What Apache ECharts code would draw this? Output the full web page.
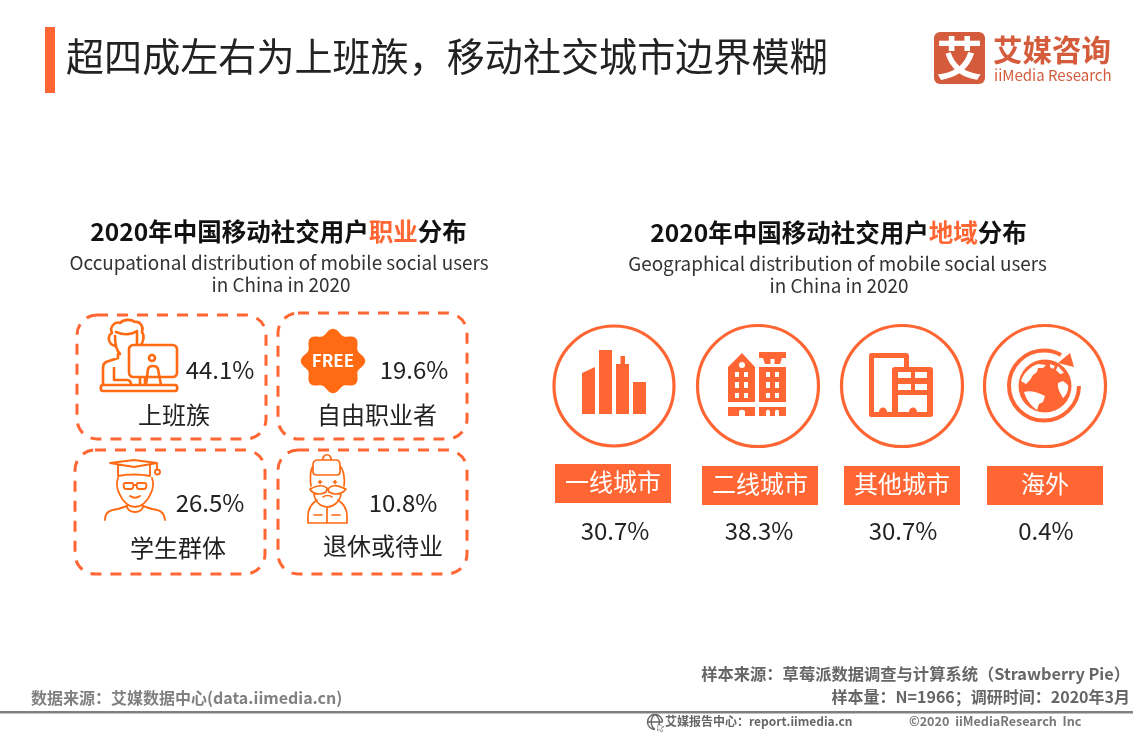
<!DOCTYPE html>
<html>
<head>
<meta charset="utf-8">
<title>移动社交用户分布</title>
<style>html,body{margin:0;padding:0;background:#fff}#main{width:1133px;height:736px}</style>
<script src="https://cdn.jsdelivr.net/npm/echarts@6/dist/echarts.min.js"></script>
</head>
<body>
<div id="main"></div>
<script>
var occupationLabels=['上班族','自由职业者','学生群体','退休或待业'];
var occupationValues=[44.1,19.6,26.5,10.8];
var regionLabels=['一线城市','二线城市','其他城市','海外'];
var regionValues=[30.7,38.3,30.7,0.4];

var ORANGE='#FF6633';
var ICON='#FF6A13';
var LOGO='#D45C3C';
var FONT='"Noto Sans CJK SC","Noto Sans",sans-serif';

function txt(x,y,text,size,color,align,weight,rich){
    return {
        type:'text',x:x,y:y,silent:true,
        style:{text:text,font:(weight||'normal')+' '+size+'px '+FONT,fontFamily:FONT,fontSize:size,fontWeight:weight||'normal',
            fill:color,align:align||'center',verticalAlign:'middle',rich:rich}
    };
}
function box(x,y,w,h,r,fill){
    return {type:'rect',shape:{x:x,y:y,width:w,height:h,r:r||0},style:{fill:fill},silent:true};
}
function dashed(x,y,w,h){
    return {type:'rect',shape:{x:x,y:y,width:w,height:h,r:20},silent:true,
        style:{fill:'none',stroke:ORANGE,lineWidth:3,lineDash:[11,9]}};
}
function ring(cx,cy,r){
    return {type:'circle',shape:{cx:cx,cy:cy,r:r},silent:true,style:{fill:'none',stroke:ORANGE,lineWidth:3.2}};
}
function badge(cx,cy){
    // 8 lobes round the FREE label
    var pts=[];
    for(var i=0;i<96;i++){
        var a=i/96*Math.PI*2-Math.PI/2;
        var r=29.5+2.8*Math.cos(a*8+Math.PI*4);
        pts.push([cx+r*Math.cos(a),cy+r*Math.sin(a)]);
    }
    return {type:'polygon',shape:{points:pts},style:{fill:ICON},silent:true};
}

var cards=[[77,315,189,124],[278,313,189,126],[75,450,190,124],[278,450,189,124]];
var occValuePos=[[220,370],[414,370],[210,503],[403,503]];
var occLabelPos=[[174,415],[377,415],[178,548],[383,546]];
var rings=[[614,386,60],[758,386,60.5],[902,386,60.5],[1045,386,60.5]];
var tags=[[555,464],[702,466],[844,466],[987,466]];

var headRich={h:{fill:ORANGE,fontSize:24.5,fontWeight:'bold',fontFamily:FONT}};
var elements=[
    box(45,27,10,66,0,ORANGE),
    txt(66,57,'超四成左右为上班族，移动社交城市边界模糊',38.1,'#222','left'),
    box(934,32,51,52,6,LOGO),
    txt(959.5,58,'艾',46,'#fff','center','bold'),
    txt(993,50,'艾媒咨询',29.5,LOGO,'left','bold'),
    txt(994,75,'iiMedia Research',15,LOGO,'left'),

    txt(278.5,232,'2020年中国移动社交用户{h|职业}分布',24.5,'#111','center','bold',headRich),
    txt(279,263,'Occupational distribution of mobile social users',18.9,'#333'),
    txt(281,285,'in China in 2020',18.9,'#333'),
    txt(838.5,233,'2020年中国移动社交用户{h|地域}分布',24.5,'#111','center','bold',headRich),
    txt(837.5,264,'Geographical distribution of mobile social users',18.9,'#333'),
    txt(839,286,'in China in 2020',18.9,'#333'),

    badge(333,361),
    txt(333,361,'FREE',17,'#fff','center','bold'),

    txt(1130,674,'样本来源：草莓派数据调查与计算系统（Strawberry Pie）',16.3,'#666','right','bold'),
    txt(1130,697,'样本量：N=1966；调研时间：2020年3月',16,'#666','right','bold'),
    txt(31,698,'数据来源：艾媒数据中心(data.iimedia.cn)',16,'#808080','left','bold'),
    box(0,711,1133,2.5,0,'#808080'),
    txt(665,721,'艾媒报告中心：report.iimedia.cn',12,'#666','left','bold'),
    txt(909,721,'©2020  iiMediaResearch  Inc',12.6,'#777','left','bold')
];
cards.forEach(function(c){elements.push(dashed(c[0],c[1],c[2],c[3]));});
occupationLabels.forEach(function(name,i){
    elements.push(txt(occLabelPos[i][0],occLabelPos[i][1],name,24,'#222'));
    elements.push(txt(occValuePos[i][0],occValuePos[i][1],occupationValues[i]+'%',24,'#222'));
});
regionLabels.forEach(function(name,i){
    var r=rings[i],t=tags[i];
    elements.push(ring(r[0],r[1],r[2]));
    elements.push(box(t[0],t[1],116,39,0,ORANGE));
    elements.push(txt(t[0]+58,t[1]+18,name,24,'#fff'));
    elements.push(txt(r[0]+1,531,regionValues[i]+'%',24,'#222'));
});

// line icons, left block: [path, width]
var lineIcons=[
    // office worker
    ['M115 346C108 344 107 336 112 333C109 327 115 321 120 323C124 319 131 319 135 322C140 321 144 327 142 332C145 336 143 342 141 345'+
    'M115 336C115 343 116 350 120 354M116 332C123 335 131 335 137 331L137 345'+
    'M118 354L118 358L106 362C104 363 103 365 103 368L103 385M114 368L114 380L127 380C130 380 131 382 131 385'+
    'M133 345L173 345C175 345 177 347 177 349L177 373C177 375 175 377 173 377L133 377C131 377 129 375 129 373L129 349C129 347 131 345 133 345Z'+
    'M140 377L140 385M145 377L145 385M146 385L148 369C149 365 157 365 158 369L161 385'+
    'M155 358A3 3 0 1 1 149 358A3 3 0 1 1 155 358Z'+
    'M103 385L175 385C178 385 178 391 175 391L103 391C100 391 100 385 103 385Z',2.6],
    // student
    ['M110 463L134 460L157 463L134 467Z M118 465L118 476C127 474 141 474 150 476L150 465M157 463L157 469'+
    'M160 472A2.5 2.5 0 1 1 155 472A2.5 2.5 0 1 1 160 472Z'+
    'M118 478C116 483 117 490 120 495C123 502 129 507 135 507C141 507 147 502 150 495C153 490 154 483 152 478'+
    'M125 483L132 483C134 483 134 489 131 489L126 489C123 489 123 483 125 483ZM138 483L145 483C147 483 147 489 144 489L139 489C136 489 136 483 138 483ZM134 485L136 485'+
    'M130 496C133 498 137 498 140 496'+
    'M105 520C105 512 110 510 118 509L127 506C127 514 143 514 143 506L152 509C160 510 164 512 165 520',1.9],
    // retired elder
    ['M323 460C322 453 332 453 331 460M318 460L336 460C339 460 340 462 340 465L340 472C340 474 339 475 337 475L317 475C315 475 313 474 313 472L313 465C313 462 315 460 318 460Z'+
    'M313 466C310 470 310 480 311 486M340 466C344 470 345 480 344 486'+
    'M327 488C323 484 316 486 310 489C313 495 322 495 326 492C327 490 327 489 327 488ZM329 488C333 484 339 486 346 489C342 495 333 495 329 492C328 490 328 489 329 488Z'+
    'M314 494C315 502 321 507 327 507C333 507 340 502 341 494M323 497C325 495 330 495 332 497'+
    'M318.5 482L321.5 482M320 480.500L320 483.500M333.500 482L336.500 482M335 480.500L335 483.500'+
    'M317 500C311 504 308 510 308 516L308 523L347 523L347 516C347 510 344 504 338 500M327 508L327 523M314 515L322 515M332 515L340 515',1.7]
];
// solid icons, right block: [path, colour]
var solidIcons=[
    ['M582 373L595 367L595 414L582 414ZM599 350L612 350L612 414L599 414ZM616 364L620.5 364L620.5 356L625 356L625 364L629 364L629 414L616 414ZM633 382L646 382L646 414L633 414Z',ORANGE],
    // two houses
    ['M742 353L755 367L755 402L728 402L728 367ZM728 407L755 407L755 416L745 416L745 412C745 409 739 409 739 412L739 416L728 416Z'+
     'M759 352L786 352L786 358L782 358L780 364L774.500 364L774.500 359L770.500 359L770.500 364L765 364L763 358L759 358ZM759 367L786 367L786 402L759 402Z'+
     'M759 407L786 407L786 416L779 416L779 412C779 409 775 409 775 412L775 416L770 416L770 412C770 409 766 409 766 412L766 416L759 416Z',ORANGE],
    ['M735 372h4v5h-4zM744 372h4v5h-4zM735 382h4v6h-4zM744 382h4v6h-4zM735 393h4v5h-4zM744 393h4v5h-4zM745 365a3 3 0 1 1 -6 0a3 3 0 1 1 6 0zM766 372h4v5h-4zM775 372h4v5h-4zM766 382h4v6h-4zM775 382h4v6h-4zM766 393h4v5h-4zM775 393h4v5h-4z','#fff'],
    // offices
    ['M871 353L906 353C908 353 909 354 909 356L909 367L930 367C932 367 933 368 933 370L933 415C933 416 932 417 930 417L871 417C870 417 869 416 869 415L869 356C869 354 870 353 871 353Z',ORANGE],
    ['M874 358L904 358L904 367L895 367C893 367 892 368 892 370L892 412L887 412C887 406 879 406 879 412L874 412ZM898 372H911V378H898ZM915 372H927V378H915ZM898 384H911V390H898ZM915 384H927V390H915ZM898 395H927V412H917C917 406 909 406 909 412H898Z','#fff'],
    // globe
    ['M1071.5 386A26.5 26.5 0 1 1 1018.5 386A26.5 26.5 0 1 1 1071.5 386Z',ORANGE],
    ['M1021 381C1024 372 1031 366 1038 364L1046 365L1043 368L1038 368L1037 372L1033 375L1030 380L1026 384ZM1050 364L1055 366L1053 369L1050 367ZM1058 366L1064 373L1060 374L1056 370ZM1058 383L1063 381L1068 385C1069 390 1066 396 1063 398C1061 394 1057 389 1058 383ZM1024 392C1030 390 1037 392 1045 396L1043 402L1039 404L1037 410C1031 406 1026 399 1024 392Z','#fff'],
    ['M1070 353L1074 367L1058 363Z',ORANGE]
];
var strokeArcs=[
    ['M1079 386A35 35 0 1 1 1061 355',ORANGE,4],
    // report centre globe
    ['M662.5 722A7.500 7.500 0 1 0 655 729.500M647.500 722L662.500 722M655 714.500C650 718 650 726 655 729.500M655 714.500C660 718 660 722 659 725',"#666",1.4],
    ['M658 724L664 727L661 728L663 731L661 732L659.500 729L657.500 731Z','#666',0.6]
];

var option={
    animation:false,
    backgroundColor:'#fff',
    graphic:{elements:elements},
    series:[{
        type:'custom',
        coordinateSystem:'none',
        silent:true,
        data:[0],
        renderItem:function(){
            var kids=[];
            solidIcons.forEach(function(p){
                kids.push({type:'path',shape:{pathData:p[0]},style:{fill:p[1]}});
            });
            strokeArcs.forEach(function(a){
                kids.push({type:'path',shape:{pathData:a[0]},style:{fill:'none',stroke:a[1],lineWidth:a[2]}});
            });
            lineIcons.forEach(function(d){
                kids.push({type:'path',shape:{pathData:d[0]},style:{fill:'none',stroke:ICON,lineWidth:d[1],lineJoin:'round',lineCap:'round'}});
            });
            return {type:'group',children:kids};
        }
    }]
};
var myChart=echarts.init(document.getElementById('main'));
myChart.setOption(option);
</script>
</body>
</html>
